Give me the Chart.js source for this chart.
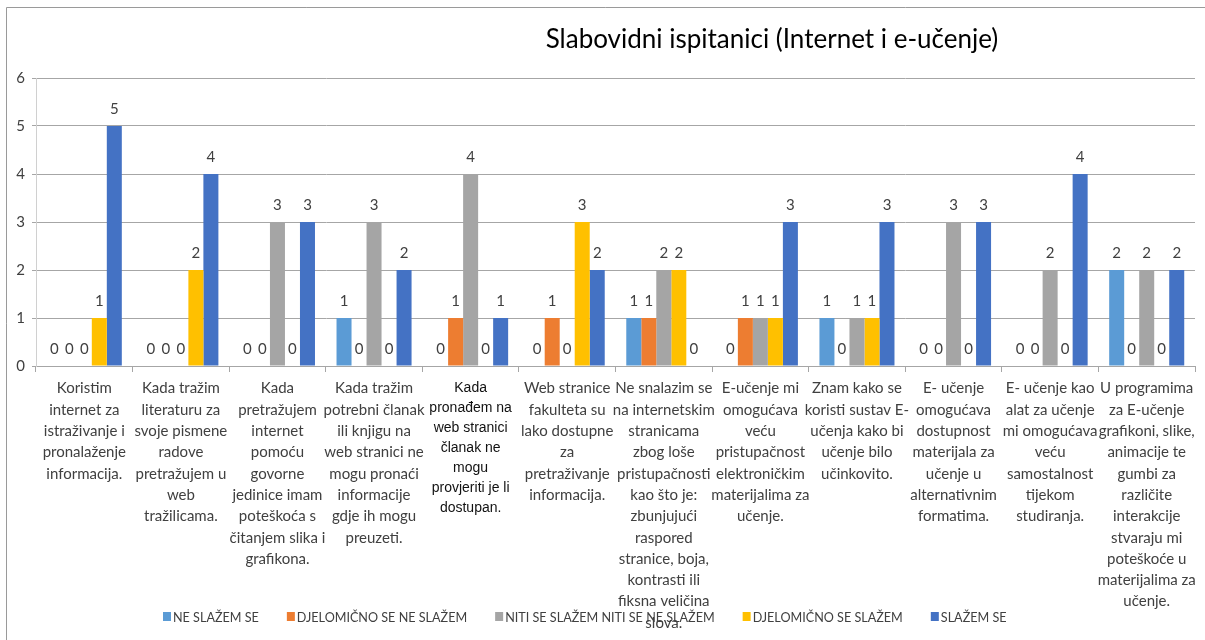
<!DOCTYPE html>
<html>
<head>
<meta charset="utf-8">
<script src="https://cdn.jsdelivr.net/npm/chart.js@4"></script>
<style>
  html, body { margin: 0; padding: 0; background: #fff; }
  #wrap { width: 1205px; height: 640px; }
</style>
</head>
<body>
<div id="wrap"><canvas id="chart" width="1205" height="640"></canvas></div>
<script>
// ---------------- DATA ----------------
const chartTitle = "Slabovidni ispitanici (Internet i e-učenje)";

const categories = [
    ["Koristim", "internet za", "istraživanje i", "pronalaženje", "informacija."],
    ["Kada tražim", "literaturu za", "svoje pismene", "radove", "pretražujem u", "web", "tražilicama."],
    ["Kada", "pretražujem", "internet", "pomoću", "govorne", "jedinice imam", "poteškoća s", "čitanjem slika i", "grafikona."],
    ["Kada tražim", "potrebni članak", "ili knjigu na", "web stranici ne", "mogu pronaći", "informacije", "gdje ih mogu", "preuzeti."],
    ["Kada", "pronađem na", "web stranici", "članak ne", "mogu", "provjeriti je li", "dostupan."],
    ["Web stranice", "fakulteta su", "lako dostupne", "za", "pretraživanje", "informacija."],
    ["Ne snalazim se", "na internetskim", "stranicama", "zbog loše", "pristupačnosti", "kao što je:", "zbunjujući", "raspored", "stranice, boja,", "kontrasti ili", "fiksna veličina", "slova."],
    ["E-učenje mi", "omogućava", "veću", "pristupačnost", "elektroničkim", "materijalima za", "učenje."],
    ["Znam kako se", "koristi sustav E-", "učenja kako bi", "učenje bilo", "učinkovito."],
    ["E- učenje", "omogućava", "dostupnost", "materijala za", "učenje u", "alternativnim", "formatima."],
    ["E- učenje kao", "alat za učenje", "mi omogućava", "veću", "samostalnost", "tijekom", "studiranja."],
    ["U programima", "za E-učenje", "grafikoni, slike,", "animacije te", "gumbi za", "različite", "interakcije", "stvaraju mi", "poteškoće u", "materijalima za", "učenje."]
];

const seriesNames = [
    "NE SLAŽEM SE",
    "DJELOMIČNO SE NE SLAŽEM",
    "NITI SE SLAŽEM NITI SE NE SLAŽEM",
    "DJELOMIČNO SE SLAŽEM",
    "SLAŽEM SE"
];

const neSlazem       = [0, 0, 0, 1, 0, 0, 1, 0, 1, 0, 0, 2];
const djelomicnoNe   = [0, 0, 0, 0, 1, 1, 1, 1, 0, 0, 0, 0];
const nitiNiti       = [0, 0, 3, 3, 4, 0, 2, 1, 1, 3, 2, 2];
const djelomicnoDa   = [1, 2, 0, 0, 0, 3, 2, 1, 1, 0, 0, 0];
const slazem         = [5, 4, 3, 2, 1, 2, 0, 3, 3, 3, 4, 2];

const yTicks = [0, 1, 2, 3, 4, 5, 6];

const colors = ["#5B9BD5", "#ED7D31", "#A5A5A5", "#FFC000", "#4472C4"];

// ---------------- FONTS ----------------
const narrow = "Lato, 'Liberation Sans', sans-serif";
const textColor = "#404040";
const gridColor = "#A6A6A6";

// ---------------- PLUGINS ----------------
// value labels above each bar (zeros included)
const valueLabels = {
    id: "valueLabels",
    afterDatasetsDraw(chart) {
        const ctx = chart.ctx;
        ctx.save();
        ctx.font = "15px " + narrow;
        ctx.fillStyle = textColor;
        ctx.textAlign = "center";
        ctx.textBaseline = "middle";
        chart.data.datasets.forEach((ds, di) => {
            const meta = chart.getDatasetMeta(di);
            meta.data.forEach((bar, i) => {
                ctx.fillText(String(ds.data[i]), bar.x, bar.y - 17);
            });
        });
        ctx.restore();
    }
};

// frame, title and legend drawn like the original
const decorations = {
    id: "decorations",
    afterDraw(chart) {
        const ctx = chart.ctx;
        ctx.save();

        // frame (left and top edges)
        ctx.strokeStyle = "#9A9A9A";
        ctx.lineWidth = 1;
        ctx.beginPath();
        ctx.moveTo(6.5, chart.height);
        ctx.lineTo(6.5, 7.5);
        ctx.lineTo(chart.width, 7.5);
        ctx.stroke();

        // title
        ctx.font = "26px " + narrow;
        ctx.fillStyle = "#000";
        ctx.textAlign = "center";
        ctx.textBaseline = "middle";
        ctx.fillText(chartTitle, 772, 40);

        // legend (text squeezed like the narrow original font)
        ctx.font = "14px " + narrow;
        ctx.textAlign = "left";
        const squeeze = 0.9;
        let x = 163;
        const y = 617;
        chart.data.datasets.forEach(ds => {
            ctx.fillStyle = ds.backgroundColor;
            ctx.fillRect(x, y - 5, 8, 9);
            ctx.fillStyle = textColor;
            ctx.save();
            ctx.translate(x + 10, y);
            ctx.scale(squeeze, 1);
            ctx.fillText(ds.label, 0, 0);
            ctx.restore();
            x += 10 + ctx.measureText(ds.label).width * squeeze + 28;
        });

        ctx.restore();
    }
};

// ---------------- CHART ----------------
const seriesValues = [neSlazem, djelomicnoNe, nitiNiti, djelomicnoDa, slazem];

new Chart(document.getElementById("chart"), {
    type: "bar",
    data: {
        labels: categories,
        datasets: seriesValues.map((vals, i) => ({
            label: seriesNames[i],
            data: vals,
            backgroundColor: colors[i],
            borderWidth: 0,
            categoryPercentage: 0.777,
            barPercentage: 1.0
        }))
    },
    options: {
        responsive: false,
        animation: false,
        events: [],
        layout: { padding: { top: 78, right: 10, bottom: 0, left: 0 } },
        plugins: {
            legend: { display: false },
            title: { display: false },
            tooltip: { enabled: false }
        },
        scales: {
            x: {
                afterFit(scale) { scale.height = 274; },
                grid: {
                    drawOnChartArea: false,
                    drawTicks: true,
                    tickLength: 6,
                    color: gridColor
                },
                border: { display: true, color: gridColor },
                ticks: {
                    maxRotation: 0,
                    autoSkip: false,
                    padding: 6,
                    color: (c) => c.index === 4 ? "#111" : textColor,
                    font: (c) => c.index === 4
                        ? { family: "'Liberation Sans', Arial, sans-serif", size: 14, lineHeight: 1.43 }
                        : { family: narrow, size: 15, lineHeight: 1.42 }
                }
            },
            y: {
                min: 0,
                max: 6,
                afterFit(scale) { scale.width = 36; },
                afterBuildTicks(scale) { scale.ticks = yTicks.map(v => ({ value: v })); },
                grid: { color: gridColor, tickLength: 4 },
                border: { display: true, color: "#D0D0D0" },
                ticks: {
                    padding: 7,
                    color: textColor,
                    font: { family: narrow, size: 15 }
                }
            }
        }
    },
    plugins: [valueLabels, decorations]
});
</script>
</body>
</html>
